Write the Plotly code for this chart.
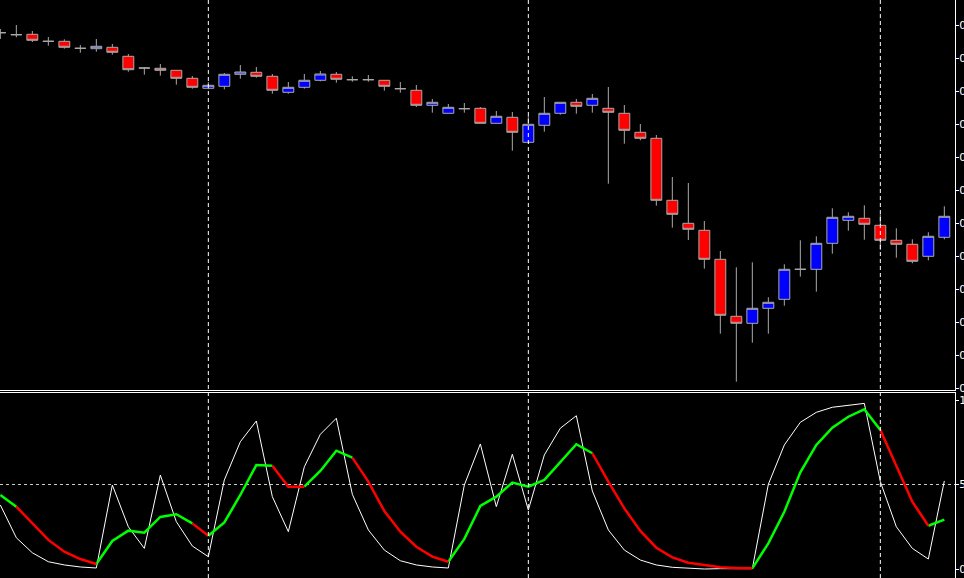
import plotly.graph_objects as go

# ---------------- data ----------------
bar_index = list(range(60))

open_ = [0.73923, 0.73903, 0.73907, 0.73837, 0.73837, 0.73767, 0.73763, 0.73777, 0.73687, 0.73570,
         0.73567, 0.73547, 0.73467, 0.73367, 0.73387, 0.73507, 0.73527, 0.73487, 0.73327, 0.73377,
         0.73447, 0.73507, 0.73453, 0.73453, 0.73447, 0.73363, 0.73347, 0.73197, 0.73117, 0.73163,
         0.73167, 0.73017, 0.73077, 0.72827, 0.72997, 0.73117, 0.73227, 0.73197, 0.73167, 0.73117,
         0.72927, 0.72867, 0.72247, 0.72017, 0.71947, 0.71657, 0.71087, 0.71017, 0.71167, 0.71257,
         0.71557, 0.71557, 0.71817, 0.72047, 0.72067, 0.71997, 0.71847, 0.71807, 0.71687, 0.71877]
high = [0.73960, 0.74000, 0.73940, 0.73880, 0.73857, 0.73800, 0.73860, 0.73810, 0.73710, 0.73580,
        0.73610, 0.73550, 0.73490, 0.73430, 0.73520, 0.73600, 0.73580, 0.73510, 0.73430, 0.73510,
        0.73540, 0.73530, 0.73487, 0.73500, 0.73450, 0.73430, 0.73400, 0.73260, 0.73210, 0.73220,
        0.73180, 0.73140, 0.73130, 0.73090, 0.73280, 0.73230, 0.73260, 0.73310, 0.73380, 0.73200,
        0.73010, 0.72900, 0.72480, 0.72420, 0.72040, 0.71740, 0.71577, 0.71627, 0.71277, 0.71607,
        0.71847, 0.71887, 0.72167, 0.72127, 0.72197, 0.72107, 0.71967, 0.71857, 0.71927, 0.72187]
low = [0.73860, 0.73877, 0.73830, 0.73793, 0.73763, 0.73723, 0.73733, 0.73703, 0.73533, 0.73503,
       0.73493, 0.73403, 0.73363, 0.73357, 0.73357, 0.73463, 0.73473, 0.73313, 0.73313, 0.73363,
       0.73437, 0.73423, 0.73433, 0.73433, 0.73343, 0.73323, 0.73180, 0.73123, 0.73117, 0.73123,
       0.73017, 0.73017, 0.72743, 0.72817, 0.72933, 0.73103, 0.73113, 0.73123, 0.72413, 0.72813,
       0.72847, 0.72193, 0.71973, 0.71850, 0.71563, 0.70913, 0.70433, 0.70823, 0.70913, 0.71193,
       0.71483, 0.71333, 0.71713, 0.71943, 0.71853, 0.71750, 0.71673, 0.71617, 0.71647, 0.71857]
close = [0.73923, 0.73903, 0.73847, 0.73837, 0.73777, 0.73767, 0.73787, 0.73727, 0.73553, 0.73570,
         0.73547, 0.73467, 0.73377, 0.73397, 0.73507, 0.73530, 0.73487, 0.73347, 0.73377, 0.73447,
         0.73510, 0.73457, 0.73453, 0.73453, 0.73387, 0.73363, 0.73197, 0.73227, 0.73177, 0.73163,
         0.73017, 0.73087, 0.72927, 0.73007, 0.73117, 0.73227, 0.73187, 0.73267, 0.73127, 0.72947,
         0.72867, 0.72247, 0.72107, 0.71957, 0.71657, 0.71097, 0.71017, 0.71167, 0.71227, 0.71557,
         0.71557, 0.71817, 0.72077, 0.72087, 0.72007, 0.71847, 0.71807, 0.71637, 0.71887, 0.72087]

stoch_main = [37.9, 18.5, 9.6, 4.3, 2.4, 1.2, 0.6, 49.7, 25.0, 12.2,
              55.6, 28.0, 13.6, 7.3, 52.7, 75.3, 87.6, 42.8, 22.1, 60.5,
              79.7, 89.2, 44.2, 23.1, 11.2, 4.9, 2.4, 1.2, 0.6, 49.7,
              74.0, 36.9, 67.9, 34.9, 67.5, 83.3, 90.7, 46.2, 23.1, 11.2,
              5.3, 2.4, 1.0, 0.4, 0.0, 0.2, 0.2, 0.2, 50.1, 73.4,
              86.8, 92.7, 95.7, 97.0, 98.0, 51.7, 25.0, 12.2, 5.9, 52.1]
stoch_signal = [43.8, 36.9, 27.0, 17.2, 10.2, 5.9, 3.0, 16.6, 22.7, 21.5,
                30.8, 32.4, 27.0, 19.7, 27.6, 43.8, 61.5, 61.1, 48.7, 48.7,
                58.0, 70.0, 65.9, 51.7, 34.3, 22.1, 13.2, 7.3, 4.3, 17.8,
                37.3, 42.8, 51.1, 48.7, 52.7, 63.1, 73.8, 68.5, 51.7, 35.9,
                22.5, 12.6, 6.9, 3.7, 2.2, 1.0, 0.6, 0.4, 15.2, 33.9,
                57.2, 73.4, 83.6, 90.1, 94.5, 82.2, 60.5, 39.8, 25.6, 29.2]
# colour of the signal segment ending at each bar: 'u' = green, 'd' = red
signal_state = (["u", "u"] + ["d"] * 5 + ["u"] * 6 + ["d"] + ["u"] * 4 + ["d"] * 2 +
                ["u"] * 3 + ["d"] * 6 + ["u"] * 9 + ["d"] * 10 + ["u"] * 8 + ["d"] * 3 + ["u"])

separators = [13, 33, 55]
price_ticks = [0.74000, 0.73670, 0.73340, 0.73010, 0.72680, 0.72350,
               0.72020, 0.71690, 0.71360, 0.71030, 0.70700, 0.70370]
osc_ticks = [0, 50, 100]
osc_levels = [50]

# ---------------- styling ----------------
W, H = 964, 578
AXIS_X = 955
MAIN_BOTTOM = 390
SUB_TOP = 393
GRAY = "#A9A9A9"
FONT = "DejaVu Sans"

x0 = -0.33 / 16
x1 = x0 + AXIS_X / 16

fig = go.Figure()

fig.add_trace(go.Candlestick(
    x=bar_index, open=open_, high=high, low=low, close=close,
    xaxis="x", yaxis="y", whiskerwidth=0,
    increasing=dict(line=dict(color=GRAY, width=1), fillcolor="#0000FF"),
    decreasing=dict(line=dict(color=GRAY, width=1), fillcolor="#FF0000"),
    hoverinfo="skip", showlegend=False,
))

fig.add_trace(go.Scatter(
    x=bar_index, y=stoch_main, xaxis="x2", yaxis="y2", mode="lines",
    line=dict(color="white", width=1), showlegend=False, hoverinfo="skip",
))

# colour-split signal line
seg = {"u": ([], []), "d": ([], [])}
i = 1
while i < len(bar_index):
    st = signal_state[i]
    j = i
    while j + 1 < len(bar_index) and signal_state[j + 1] == st:
        j += 1
    xs, ys = seg[st]
    xs.extend(bar_index[i - 1:j + 1] + [None])
    ys.extend(stoch_signal[i - 1:j + 1] + [None])
    i = j + 1
for st, col in (("u", "#00FF00"), ("d", "#FF0000")):
    fig.add_trace(go.Scatter(
        x=seg[st][0], y=seg[st][1], xaxis="x2", yaxis="y2", mode="lines",
        line=dict(color=col, width=2.5), showlegend=False, hoverinfo="skip",
        connectgaps=False,
    ))

shapes = []
for s in separators:
    shapes.append(dict(type="line", xref="x", yref="paper", x0=s, x1=s, y0=0, y1=1,
                       line=dict(color="white", width=1, dash="4px,3px"), layer="above"))
for lv in osc_levels:
    shapes.append(dict(type="line", xref="x2 domain", yref="y2", x0=0, x1=1, y0=lv, y1=lv,
                       line=dict(color="#C8C8C8", width=1, dash="3px,3px"), layer="below"))

sub_lo = -(H - 569) / 1.69
sub_hi = (569 - SUB_TOP) / 1.69
p_hi = 0.7425
p_lo = p_hi - MAIN_BOTTOM * 0.0001

common_x = dict(range=[x0, x1], domain=[0, AXIS_X / W], showgrid=False, zeroline=False,
                showticklabels=False, ticks="", showline=True, linecolor="white", linewidth=1,
                fixedrange=True, automargin=False)
common_y = dict(side="right", showgrid=False, zeroline=False, showline=True, linecolor="white",
                linewidth=1, ticks="outside", ticklen=3, tickcolor="white",
                tickfont=dict(color="white", size=11, family=FONT), fixedrange=True,
                automargin=False, ticklabelstandoff=-2)

fig.update_layout(
    width=W, height=H, autosize=False,
    margin=dict(l=0, r=0, t=0, b=0, pad=0, autoexpand=False),
    paper_bgcolor="black", plot_bgcolor="black",
    boxgap=0.32, boxgroupgap=0,
    showlegend=False,
    xaxis=dict(**common_x, anchor="y", rangeslider=dict(visible=False)),
    xaxis2=dict(**common_x, anchor="y2", side="top", matches="x"),
    yaxis=dict(**common_y, anchor="x", domain=[1 - MAIN_BOTTOM / H, 1], range=[p_lo, p_hi],
               tickvals=price_ticks, ticktext=[f"{p:.5f}" for p in price_ticks]),
    yaxis2=dict(**common_y, anchor="x2", domain=[0, 1 - SUB_TOP / H], range=[sub_lo, sub_hi],
                tickvals=osc_ticks, ticktext=[str(t) for t in osc_ticks]),
    shapes=shapes,
)

fig.write_html(
    "out.html",
    config={"displayModeBar": False, "staticPlot": True},
    post_script="document.body.style.margin='0px';document.body.style.overflow='hidden';"
                "document.body.style.background='black';",
)
